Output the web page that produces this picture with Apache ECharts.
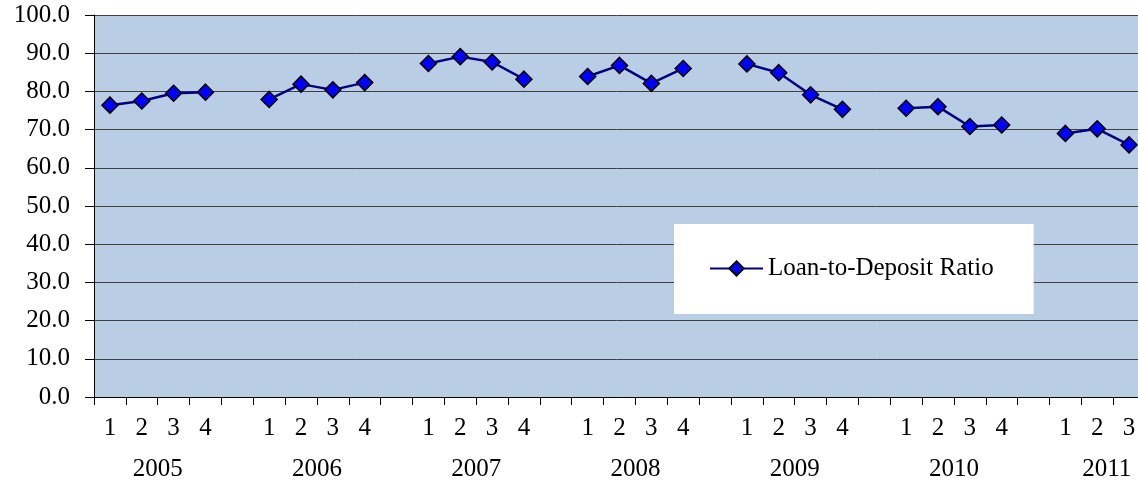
<!DOCTYPE html>
<html>
<head>
<meta charset="utf-8">
<script src="https://cdn.jsdelivr.net/npm/echarts@6/dist/echarts.min.js"></script>
<style>
  html, body { margin: 0; padding: 0; background: #fff; }
  #chart { width: 1138px; height: 485px; }
</style>
</head>
<body>
<div id="chart"></div>
<script>
var years = ['2005', '2006', '2007', '2008', '2009', '2010', '2011']
var ratio2005 = [76.4, 77.5, 79.5, 79.8]
var ratio2006 = [77.9, 81.9, 80.4, 82.3]
var ratio2007 = [87.3, 89.1, 87.7, 83.2]
var ratio2008 = [83.9, 86.8, 82.1, 86.0]
var ratio2009 = [87.2, 84.9, 79.1, 75.3]
var ratio2010 = [75.6, 76.0, 70.8, 71.2]
var ratio2011 = [69.0, 70.2, 66.0]
var yearValues = [ratio2005, ratio2006, ratio2007, ratio2008, ratio2009, ratio2010, ratio2011]
var seriesName = 'Loan-to-Deposit Ratio'

// one slot per quarter plus an empty slot between years
var quarterLabels = []
var seriesValues = []
var yearStarts = []
yearValues.forEach(function (vals, i) {
  yearStarts.push(quarterLabels.length)
  vals.forEach(function (v, q) {
    quarterLabels.push(String(q + 1))
    seriesValues.push(v)
  })
  if (i < yearValues.length - 1) {
    quarterLabels.push('')
    seriesValues.push(null)
  }
})
// year label in the middle of a 4-quarter group, kept inside the axis
var yearCenters = yearStarts.map(function (s) {
  return Math.min(s + 2, quarterLabels.length - 1.2)
})

var font = '"Liberation Serif", "Times New Roman", serif'
var chart = echarts.init(document.getElementById('chart'))

chart.setOption({
  backgroundColor: '#fff',
  animation: false,
  textStyle: { fontFamily: font },
  grid: {
    left: 94,
    top: 15,
    width: 1051,
    height: 382,
    show: true,
    backgroundColor: '#b9cde5',
    borderWidth: 0,
    containLabel: false,
    outerBoundsMode: 'none'
  },
  legend: {
    show: true,
    left: 674,
    top: 224,
    orient: 'horizontal',
    backgroundColor: '#fff',
    padding: [32, 40, 33, 35],
    itemWidth: 53,
    itemHeight: 18,
    itemGap: 0,
    textStyle: { fontFamily: font, fontSize: 25, color: '#000' },
    data: [seriesName]
  },
  xAxis: [{
    type: 'category',
    data: quarterLabels,
    boundaryGap: true,
    axisLine: { lineStyle: { color: '#000', width: 1 } },
    axisTick: { show: true, interval: 0, length: 8, alignWithLabel: false, lineStyle: { color: '#000' } },
    axisLabel: { interval: 0, margin: 19, fontSize: 25, color: '#000', fontFamily: font },
    splitLine: { show: false }
  }, {
    type: 'value',
    position: 'bottom',
    offset: 52,
    min: 0,
    max: quarterLabels.length,
    axisLine: { show: false },
    axisTick: { show: false },
    splitLine: { show: false },
    axisLabel: {
      customValues: yearCenters,
      margin: 8,
      fontSize: 25,
      color: '#000',
      fontFamily: font,
      formatter: function (v) {
        var i = yearCenters.indexOf(v)
        return i >= 0 ? years[i] : ''
      }
    }
  }],
  yAxis: {
    type: 'value',
    min: 0,
    max: 100,
    interval: 10,
    axisLine: { show: true, lineStyle: { color: '#000', width: 1 } },
    axisTick: { show: true, length: 9, inside: false, lineStyle: { color: '#000' } },
    axisLabel: {
      margin: 24,
      fontSize: 25,
      color: '#000',
      fontFamily: font,
      formatter: function (v) { return v.toFixed(1) }
    },
    splitLine: { show: true, lineStyle: { color: '#404040', width: 1 } }
  },
  series: [{
    name: seriesName,
    type: 'line',
    xAxisIndex: 0,
    data: seriesValues,
    connectNulls: false,
    symbol: 'diamond',
    symbolSize: 16,
    lineStyle: { color: '#000080', width: 2.5 },
    itemStyle: { color: '#0000ff', borderColor: '#000', borderWidth: 1.5 },
    z: 3
  }]
})
</script>
</body>
</html>
